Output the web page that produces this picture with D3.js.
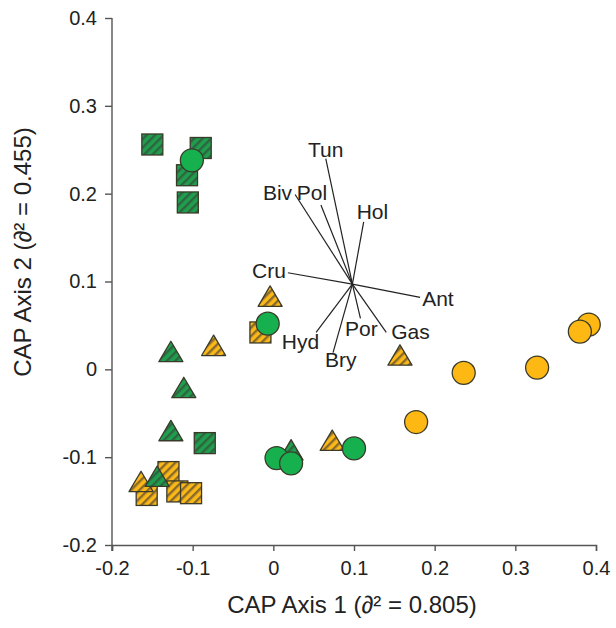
<!DOCTYPE html>
<html>
<head>
<meta charset="utf-8">
<script src="https://cdn.jsdelivr.net/npm/d3@7"></script>
<style>
  body { margin: 0; background: #fff; }
  text { font-family: "Liberation Sans", Arial, sans-serif; fill: #222; }
</style>
</head>
<body>
<div id="chart"></div>
<script>
// axis ticks
var xTicks = [-0.2, -0.1, 0, 0.1, 0.2, 0.3, 0.4],
    yTicks = [-0.2, -0.1, 0, 0.1, 0.2, 0.3, 0.4];

// site scores, [CAP1, CAP2]
var yellowSquares = [[-0.016, 0.042], [-0.130, -0.117], [-0.157, -0.143], [-0.119, -0.139], [-0.102, -0.141]];
var yellowTriangles = [[-0.004, 0.081], [-0.074, 0.025], [0.157, 0.014], [0.073, -0.083], [-0.164, -0.130]];
var greenSquares = [[-0.150, 0.256], [-0.090, 0.252], [-0.107, 0.221], [-0.106, 0.190], [-0.085, -0.084]];
var greenTriangles = [[-0.127, 0.018], [-0.111, -0.023], [-0.127, -0.072], [0.022, -0.094], [-0.144, -0.124]];
var greenCircles = [[-0.101, 0.238], [-0.007, 0.052], [0.004, -0.101], [0.022, -0.107], [0.100, -0.090]];
var yellowCircles = [[0.177, -0.060], [0.236, -0.004], [0.327, 0.002], [0.391, 0.051], [0.380, 0.043]];

// taxon vectors
var vecOrigin = [0.098, 0.097];
var vecNames = ["Tun", "Biv", "Pol", "Hol", "Cru", "Ant", "Hyd", "Bry", "Por", "Gas"];
var vecX = [0.065, 0.027, 0.059, 0.112, 0.018, 0.182, 0.053, 0.074, 0.108, 0.140];
var vecY = [0.240, 0.199, 0.187, 0.168, 0.110, 0.082, 0.042, 0.019, 0.058, 0.042];

// label placement relative to vector tip: anchor, dx, dy
var labelPlace = {
  Tun: ["middle", 0, -2], Biv: ["end", -3, 5], Pol: ["middle", -9, -5],
  Hol: ["start", -7, -3], Cru: ["end", -2, 5], Ant: ["start", 2, 9],
  Hyd: ["end", 3, 17], Bry: ["start", -8, 14], Por: ["middle", 1, 18],
  Gas: ["start", 5, 7]
};

var width = 616, height = 628,
    margin = {left: 112, top: 18, right: 16, bottom: 83};

var green = "#1f9e4d", greenStripe = "#2e6540",
    yellow = "#fbb917", yellowStripe = "#8a6a2c",
    edge = "#3a3a2a";

var svg = d3.select("#chart").append("svg")
    .attr("width", width)
    .attr("height", height);

var x = d3.scaleLinear().domain([-0.2, 0.4]).range([margin.left, width - margin.right - 4]);
var y = d3.scaleLinear().domain([-0.2, 0.4]).range([height - margin.bottom, margin.top]);

// hyphen minus, plain 0
var fmt = function(d) { return d === 0 ? "0" : d.toFixed(1); };

// hatch patterns
var defs = svg.append("defs");
function hatch(id, bg, fg) {
  var p = defs.append("pattern")
      .attr("id", id)
      .attr("patternUnits", "userSpaceOnUse")
      .attr("width", 6).attr("height", 6)
      .attr("patternTransform", "rotate(45)");
  p.append("rect").attr("width", 6).attr("height", 6).attr("fill", bg);
  p.append("rect").attr("width", 2.4).attr("height", 6).attr("fill", fg);
}
hatch("hatchGreen", green, greenStripe);
hatch("hatchYellow", yellow, yellowStripe);

// axes
var xAxis = svg.append("g")
    .attr("transform", "translate(0," + y(-0.2) + ")")
    .call(d3.axisBottom(x).tickValues(xTicks).tickFormat(fmt).tickSizeOuter(0).tickSize(6).tickPadding(10));
var yAxis = svg.append("g")
    .attr("transform", "translate(" + x(-0.2) + ",0)")
    .call(d3.axisLeft(y).tickValues(yTicks).tickFormat(fmt).tickSizeOuter(0).tickSize(7).tickPadding(8));

[xAxis, yAxis].forEach(function(a) {
  a.selectAll("path, line").attr("stroke", "#555").attr("stroke-width", 1.4);
  a.selectAll("text").style("font-size", "20px").attr("fill", "#222");
});
// y axis runs a little past the x axis
yAxis.select(".domain").attr("d", "M0," + y(0.4) + "V" + (y(-0.2) + 6));

svg.append("text")
    .attr("x", 352).attr("y", 613)
    .attr("text-anchor", "middle")
    .style("font-size", "24px")
    .text("CAP Axis 1 (\u2202\u00b2 = 0.805)");

svg.append("text")
    .attr("transform", "translate(31,252) rotate(-90)")
    .attr("text-anchor", "middle")
    .style("font-size", "24px")
    .text("CAP Axis 2 (\u2202\u00b2 = 0.455)");

// vectors
var vectors = vecNames.map(function(n, i) { return {name: n, x: vecX[i], y: vecY[i]}; });
var vg = svg.append("g");
vg.selectAll("line")
    .data(vectors)
  .enter().append("line")
    .attr("x1", x(vecOrigin[0])).attr("y1", y(vecOrigin[1]))
    .attr("x2", function(d) { return x(d.x); })
    .attr("y2", function(d) { return y(d.y); })
    .attr("stroke", "#222").attr("stroke-width", 1.2);
vg.selectAll("text")
    .data(vectors)
  .enter().append("text")
    .attr("x", function(d) { return x(d.x) + labelPlace[d.name][1]; })
    .attr("y", function(d) { return y(d.y) + labelPlace[d.name][2]; })
    .attr("text-anchor", function(d) { return labelPlace[d.name][0]; })
    .style("font-size", "21px")
    .text(function(d) { return d.name; });

// markers
var sq = 21, tri = 24, rad = 11.5;
function squares(data, fill) {
  svg.append("g").selectAll("rect")
      .data(data)
    .enter().append("rect")
      .attr("x", function(d) { return x(d[0]) - sq / 2; })
      .attr("y", function(d) { return y(d[1]) - sq / 2; })
      .attr("width", sq).attr("height", sq)
      .attr("fill", fill).attr("stroke", edge).attr("stroke-width", 1.3);
}
function triangles(data, fill) {
  svg.append("g").selectAll("path")
      .data(data)
    .enter().append("path")
      .attr("d", function(d) {
        var cx = x(d[0]), cy = y(d[1]), h = tri * 0.85;
        return "M" + cx + "," + (cy - h * 0.6) + "L" + (cx + tri / 2) + "," + (cy + h * 0.4) +
               "L" + (cx - tri / 2) + "," + (cy + h * 0.4) + "Z";
      })
      .attr("fill", fill).attr("stroke", edge).attr("stroke-width", 1.3)
      .attr("stroke-linejoin", "round");
}
function circles(data, fill) {
  svg.append("g").selectAll("circle")
      .data(data)
    .enter().append("circle")
      .attr("cx", function(d) { return x(d[0]); })
      .attr("cy", function(d) { return y(d[1]); })
      .attr("r", rad)
      .attr("fill", fill).attr("stroke", edge).attr("stroke-width", 1.3);
}

squares(yellowSquares, "url(#hatchYellow)");
triangles(yellowTriangles, "url(#hatchYellow)");
squares(greenSquares, "url(#hatchGreen)");
triangles(greenTriangles, "url(#hatchGreen)");
circles(greenCircles, "#17b04e");
circles(yellowCircles, "#fdb813");
</script>
</body>
</html>
